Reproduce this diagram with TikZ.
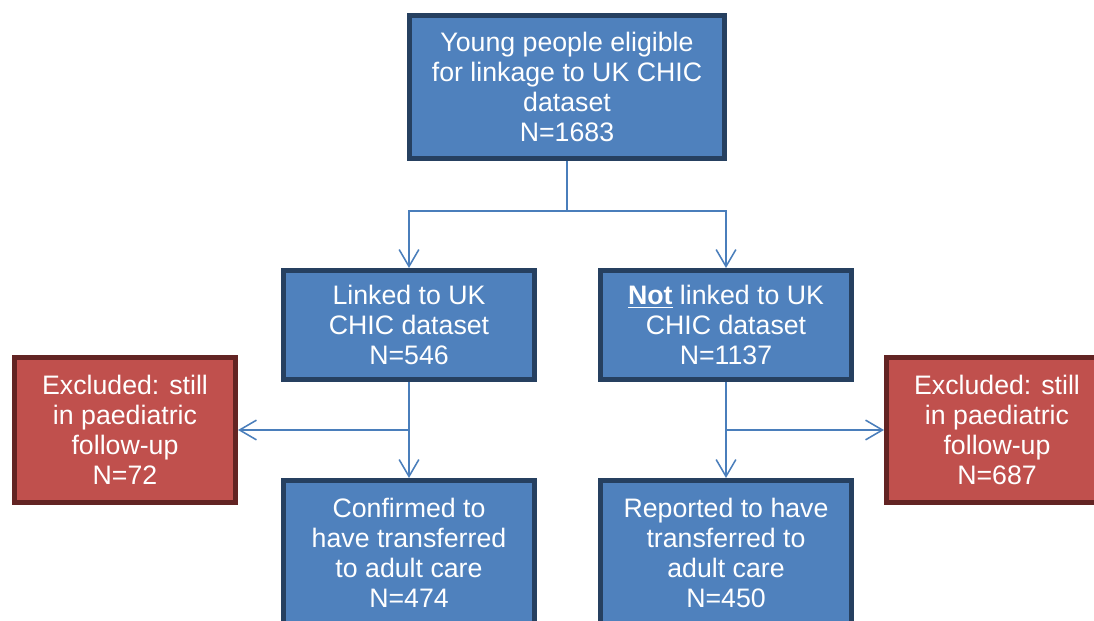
\documentclass[tikz,border=0pt]{standalone}
\usepackage{fontspec}
\setmainfont{Liberation Sans}
\usetikzlibrary{positioning,arrows.meta,calc}

\begin{document}
\begin{tikzpicture}[
    x=0.025cm, y=-0.025cm,
    box/.style={draw, line width=0.125cm, align=center, text=white, inner sep=0pt,
        font=\fontsize{19}{21.3}\selectfont},
    kept/.style={box, draw=bordblue, fill=fillblue, minimum width=6.275cm, minimum height=2.725cm},
    drop/.style={box, draw=bordred, fill=fillred, minimum width=5.525cm, minimum height=3.625cm},
    link/.style={draw=lineblue, line width=1.1pt},
    >={Straight Barb[length=12pt,width=14pt]}
]

\definecolor{fillblue}{RGB}{79,129,189}
\definecolor{bordblue}{RGB}{38,64,96}
\definecolor{fillred}{RGB}{192,80,77}
\definecolor{bordred}{RGB}{99,36,35}
\definecolor{lineblue}{RGB}{74,126,187}

\path[use as bounding box, clip] (0,0) rectangle (1094,620);

% Top
\node[kept, minimum width=7.875cm, minimum height=3.575cm] (elig) at (567,87)
    {Young people eligible\\for linkage to UK CHIC\\dataset\\N=1683};

% Second row
\node[kept] (linked) at (409,325) {Linked to UK\\CHIC dataset\\N=546};
\node[kept] (notlinked) at (726,325) {\underline{\textbf{Not}} linked to UK\\CHIC dataset\\N=1137};

% Exclusions
\node[drop] (exclL) at (125,430) {Excluded: still\\in paediatric\\follow-up\\N=72};
\node[drop] (exclR) at (997,430) {Excluded: still\\in paediatric\\follow-up\\N=687};

% Bottom row
\node[kept, minimum height=3.625cm] (confirmed) at (409,553)
    {Confirmed to\\have transferred\\to adult care\\N=474};
\node[kept, minimum height=3.625cm] (reported) at (726,553)
    {Reported to have\\transferred to\\adult care\\N=450};

% Connectors
\coordinate (split) at ($(elig.south)+(0,50)$);
\draw[link] (elig.south) -- (split);
\draw[link, ->] (split) -| (linked.north);
\draw[link, ->] (split) -| (notlinked.north);
\draw[link, ->] (linked.south) -- (confirmed.north);
\draw[link, ->] (linked.south |- exclL.east) -- (exclL.east);
\draw[link, ->] (notlinked.south) -- (reported.north);
\draw[link, ->] (notlinked.south |- exclR.west) -- (exclR.west);

\end{tikzpicture}
\end{document}
